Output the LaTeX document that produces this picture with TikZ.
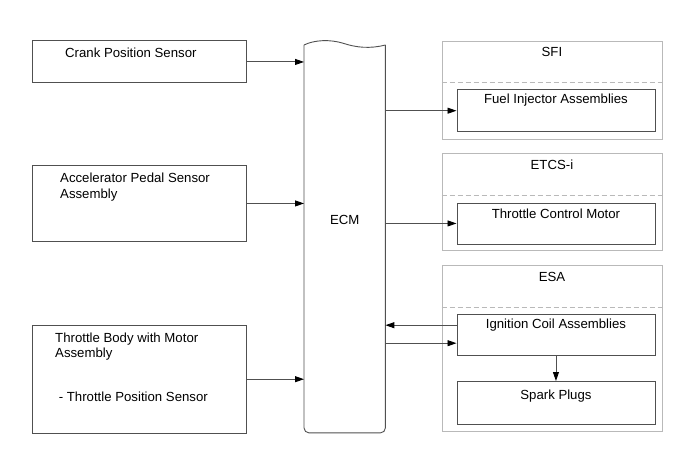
\documentclass[tikz,border=0pt]{standalone}
\usepackage{fontspec}
\setmainfont{Liberation Sans}
\usetikzlibrary{arrows.meta,positioning,calc}
\definecolor{ecmline}{RGB}{80,80,80}
\definecolor{grpline}{RGB}{185,185,185}

\begin{document}
\begin{tikzpicture}[x=1pt, y=-1pt,
        every node/.style={font=\fontsize{13.2}{15.6}\selectfont},
        unit/.style={draw=ecmline, line width=0.9pt, anchor=north west, inner sep=0pt, minimum width=#1},
        group/.style={draw=grpline, line width=0.9pt, anchor=north west, inner sep=0pt, minimum width=220pt},
        sep/.style={draw=grpline, line width=0.9pt, dash pattern=on 5pt off 3pt},
        txt/.style={inner sep=0pt, align=left},
        sig/.style={draw=ecmline, line width=0.9pt, -{Stealth[length=9pt,width=6pt,inset=0pt,black]}}]
        \useasboundingbox (0,0) rectangle (690,465);
        % sensors
        \node[unit=214pt, minimum height=42pt] (crank) at (31.5,40.5) {};
        \node[unit=214pt, minimum height=76pt] (accel) at (31.5,165) {};
        \node[unit=214pt, minimum height=107.5pt] (tbody) at (31.5,325) {};
        \node[txt, anchor=north west] (cranktxt) at ($(crank.north west)+(33.5,7.5)$) {Crank Position Sensor};
        \node[txt, anchor=north west] (acceltxt) at ($(accel.north west)+(28.5,7.8)$) {Accelerator Pedal Sensor\\Assembly};
        \node[txt, anchor=north west] (tbodytxt) at ($(tbody.north west)+(23.5,7.4)$) {Throttle Body with Motor\\Assembly\\[27.8pt]\ - Throttle Position Sensor};
        % ECM
        \node[draw=none, anchor=north west, inner sep=0pt, minimum width=81pt, minimum height=387.5pt] (ecm) at (304,45) {};
        \draw[ecmline, line width=0.9pt, rounded corners=5pt] (ecm.north west) -- (ecm.south west) -- (ecm.south east) -- (ecm.north east);
        \draw[ecmline, line width=0.9pt] (ecm.north west) .. controls (314,40) and (330,39) .. (344,43.5) .. controls (356,47.5) and (370,49) .. (ecm.north east);
        \node (ecmtxt) at ($(ecm.center)+(0,-18.5)$) {ECM};
        % actuator groups
        \node[group, minimum height=97.5pt] (sfi) at (441.5,41.5) {};
        \node[group, minimum height=96.5pt] (etcs) at (441.5,153.5) {};
        \node[group, minimum height=166pt] (esa) at (441.5,265) {};
        \draw[sep] ($(sfi.north west)+(0,41)$) -- ($(sfi.north east)+(0,41)$);
        \draw[sep] ($(etcs.north west)+(0,41.5)$) -- ($(etcs.north east)+(0,41.5)$);
        \draw[sep] ($(esa.north west)+(0,42.7)$) -- ($(esa.north east)+(0,42.7)$);
        \node[txt, anchor=base] (sfitxt) at ($(sfi.north)+(0,15.3)$) {SFI};
        \node[txt, anchor=base] (etcstxt) at ($(etcs.north)+(0,16.4)$) {ETCS-i};
        \node[txt, anchor=base] (esatxt) at ($(esa.north)+(0,16.7)$) {ESA};
        % actuators
        \node[unit=198pt, minimum height=41.5pt] (fuel) at (456.5,89.5) {};
        \node[unit=198pt, minimum height=41pt] (motor) at (456.5,202.5) {};
        \node[unit=198pt, minimum height=41.5pt] (coil) at (456.5,313.5) {};
        \node[unit=198pt, minimum height=42.5pt] (plugs) at (456.5,381) {};
        \node[txt, anchor=base] (fueltxt) at ($(fuel.north)+(0,14.4)$) {Fuel Injector Assemblies};
        \node[txt, anchor=base] (motortxt) at ($(motor.north)+(0,16.4)$) {Throttle Control Motor};
        \node[txt, anchor=base] (coiltxt) at ($(coil.north)+(0,15.4)$) {Ignition Coil Assemblies};
        \node[txt, anchor=base] (plugstxt) at ($(plugs.north)+(0,18.7)$) {Spark Plugs};
        % signals
        \draw[sig] (crank.east) -- (crank.east -| ecm.west);
        \draw[sig] (accel.east) -- (accel.east -| ecm.west);
        \draw[sig] (tbody.east) -- (tbody.east -| ecm.west);
        \draw[sig] (fuel.west -| ecm.east) -- (fuel.west);
        \draw[sig] (motor.west -| ecm.east) -- (motor.west);
        \coordinate (igt) at ($(coil.west)+(0,-9.5)$);
        \coordinate (igf) at ($(coil.west)+(0,8.5)$);
        \draw[sig] (igt) -- (igt -| ecm.east);
        \draw[sig] (igf -| ecm.east) -- (igf);
        \draw[sig] (coil.south) -- (plugs.north);
\end{tikzpicture}
\end{document}
